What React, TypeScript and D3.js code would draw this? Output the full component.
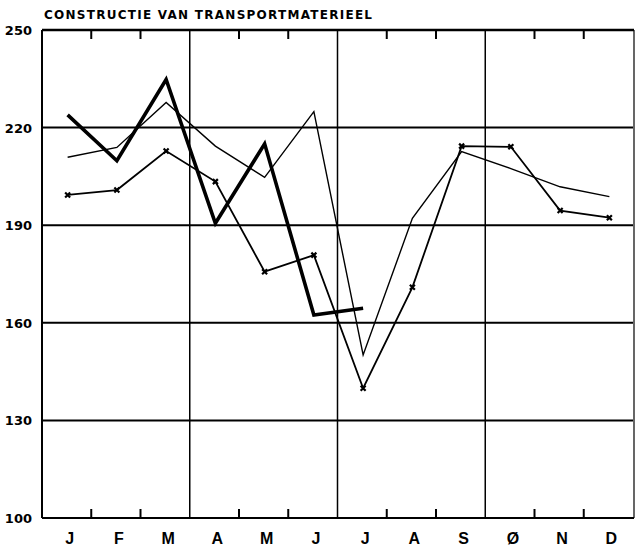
import React from 'react'
import * as d3 from 'd3'

const title = 'CONSTRUCTIE VAN TRANSPORTMATERIEEL'
const months = ['J', 'F', 'M', 'A', 'M', 'J', 'J', 'A', 'S', 'Ø', 'N', 'D']
const yTicks = [100, 130, 160, 190, 220, 250]

// thick line, stops in July
const seriesThick = [223.9, 209.8, 234.8, 190.6, 215.0, 162.4, 164.5]
// thin line, no markers
const seriesThin = [210.9, 213.9, 227.7, 214.3, 204.7, 224.9, 150.1, 192.1, 212.6, 207.4, 201.8, 198.8]
// medium line with x markers
const seriesMarked = [199.3, 200.8, 212.8, 203.4, 175.7, 180.8, 139.9, 170.9, 214.3, 214.1, 194.5, 192.3]

const W = 635
const H = 546
const left = 42
const right = 633
const top = 30
const bottom = 518

export default function App() {
  const x = d3
    .scaleBand<number>()
    .domain(months.map((_, i) => i))
    .range([left, right])
    .paddingInner(0)
    .paddingOuter(0)
  const y = d3.scaleLinear().domain([100, 250]).range([bottom, top])
  const bw = x.bandwidth()
  const cx = (i: number) => (x(i) ?? 0) + bw / 2 + 1

  const line = d3
    .line<number>()
    .x((_, i) => cx(i))
    .y((d) => y(d))

  const boundaries = d3.range(1, months.length).map((i) => x(i) ?? 0)
  const marker = d3.symbol(d3.symbolX, 18)()

  const font = '"Liberation Sans", Arial, sans-serif'
  const heavy = '"DejaVu Sans", sans-serif'

  return (
    <svg
      width={W}
      height={H}
      style={{ position: 'absolute', left: 0, top: 0, background: '#fff' }}
    >
      <text
        x={44}
        y={19}
        fontFamily={heavy}
        fontWeight="bold"
        fontSize={12}
        textLength={328}
        lengthAdjust="spacing"
        fill="#000"
      >
        {title}
      </text>

      {/* horizontal grid */}
      {yTicks
        .filter((t) => t !== 100 && t !== 250)
        .map((t) => (
          <line key={t} x1={left} x2={right} y1={y(t)} y2={y(t)} stroke="#000" strokeWidth={2} />
        ))}

      {/* month ticks and quarter lines */}
      {boundaries.map((b, i) =>
        (i + 1) % 3 === 0 ? (
          <line key={i} x1={b} x2={b} y1={top} y2={bottom} stroke="#000" strokeWidth={1.5} />
        ) : (
          <g key={i}>
            <line x1={b} x2={b} y1={top} y2={top + 9} stroke="#000" strokeWidth={2} />
            <line x1={b} x2={b} y1={bottom} y2={bottom - 9} stroke="#000" strokeWidth={2} />
          </g>
        )
      )}

      {/* frame */}
      <line x1={left} x2={right + 1} y1={top} y2={top} stroke="#000" strokeWidth={2.5} />
      <line x1={left} x2={right + 1} y1={bottom} y2={bottom} stroke="#000" strokeWidth={2.2} />
      <line x1={left} x2={left} y1={top} y2={bottom} stroke="#000" strokeWidth={2} />
      <line x1={right + 1} x2={right + 1} y1={top} y2={bottom} stroke="#000" strokeWidth={1.2} />

      {/* y labels */}
      {yTicks.map((t) => (
        <text
          key={t}
          x={32}
          y={y(t) + 5}
          textAnchor="end"
          fontFamily={heavy}
          fontWeight="bold"
          fontSize={13}
          fill="#000"
        >
          {t}
        </text>
      ))}

      {/* x labels */}
      {months.map((m, i) => (
        <text
          key={i}
          x={cx(i) + 2}
          y={543.5}
          textAnchor="middle"
          fontFamily={font}
          fontWeight="bold"
          fontSize={16}
          fill="#000"
        >
          {m}
        </text>
      ))}

      <path d={line(seriesThin) ?? ''} fill="none" stroke="#000" strokeWidth={1.4} strokeLinejoin="miter" />
      <path d={line(seriesMarked) ?? ''} fill="none" stroke="#000" strokeWidth={1.8} strokeLinejoin="miter" />
      {seriesMarked.map((v, i) => (
        <path
          key={i}
          d={marker ?? ''}
          transform={`translate(${cx(i)},${y(v)})`}
          fill="none"
          stroke="#000"
          strokeWidth={2.2}
        />
      ))}
      <path d={line(seriesThick) ?? ''} fill="none" stroke="#000" strokeWidth={3.6} strokeLinejoin="miter" strokeMiterlimit={10} />
    </svg>
  )
}
